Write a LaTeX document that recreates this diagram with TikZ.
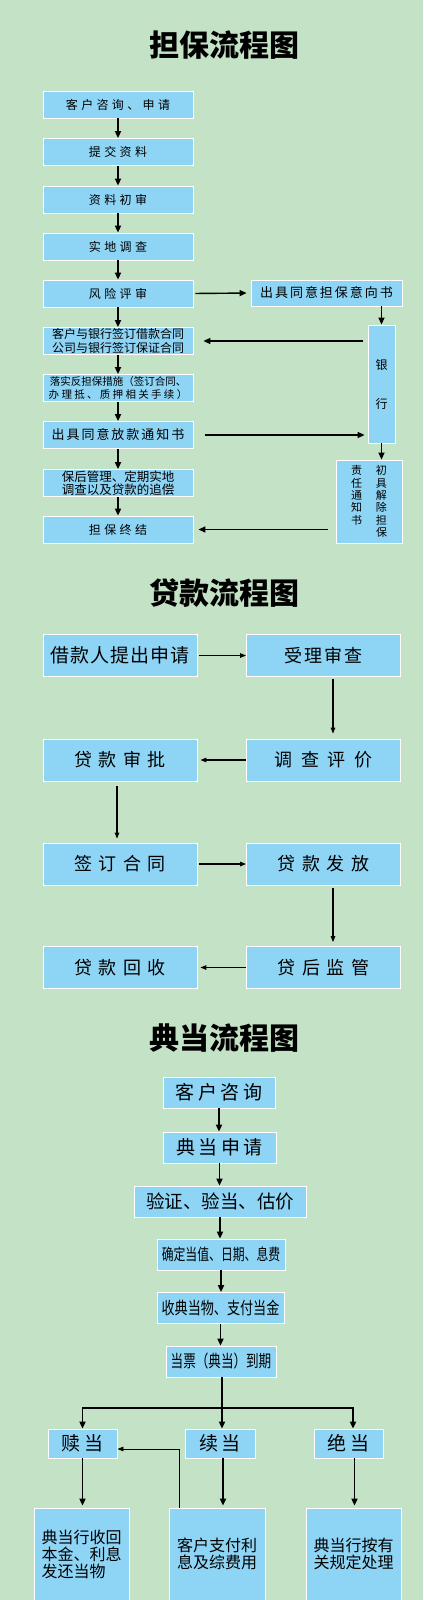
\documentclass[tikz,border=0pt]{standalone}
\usepackage{fontspec}
\usepackage{graphicx}
\newfontfamily\cjk{Noto Sans CJK SC}
\usetikzlibrary{arrows.meta}
\definecolor{bggreen}{RGB}{196,227,198}
\definecolor{boxblue}{RGB}{142,212,245}

\begin{document}
\begin{tikzpicture}[x=1pt, y=-1pt,
    box/.style   = {draw=white, line width=0.8pt, fill=boxblue, inner sep=1pt, align=center},
    gbox/.style  = {box, minimum width=150pt, minimum height=27pt,
                    font={\cjk\fontsize{12}{13.5}\selectfont\addfontfeatures{LetterSpace=28}}},
    lbox/.style  = {box, minimum width=154pt, minimum height=42pt,
                    font={\cjk\fontsize{18}{20}\selectfont\addfontfeatures{LetterSpace=37}}},
    cbox/.style  = {box, minimum height=31pt,
                    font={\cjk\fontsize{19}{21}\selectfont\addfontfeatures{LetterSpace=18}}},
    ubox/.style  = {box, minimum width=95pt, minimum height=92pt,
                    font={\cjk\fontsize{16}{17}\selectfont}},
    ttl/.style   = {font={\cjk\bfseries\fontsize{30}{32}\selectfont}},
    darr/.style  = {-{Triangle[length=7pt,width=6pt]}, line width=1.8pt},
    tarr/.style  = {-{Triangle[length=6pt,width=4.5pt]}, line width=1.1pt}
    ]
      \useasboundingbox (0,0) rectangle (423,1600);
      \fill[bggreen] (0,0) rectangle (423,1600);

      % guarantee ------------------------------------------------
      \node[ttl] (title1) at (224,45) {担保流程图};
      \node[gbox] (g1) at (118,104.5) {客户咨询、申请};
      \node[gbox] (g2) at (118,152)   {提交资料};
      \node[gbox] (g3) at (118,199.5) {资料初审};
      \node[gbox] (g4) at (118,246.5) {实地调查};
      \node[gbox] (g5) at (118,293.5) {风险评审};
      \node[gbox, font={\cjk\fontsize{12}{13.5}\selectfont}] (g6) at (118,341)
            {客户与银行签订借款合同\\公司与银行签订保证合同};
      \node[gbox, font={\cjk\fontsize{10.5}{12.5}\selectfont}] (g7) at (118,388)
            {落实反担保措施（签订合同、\\{\addfontfeatures{LetterSpace=22}办理抵、质押相关手续）}};
      \node[gbox, font={\cjk\fontsize{13}{14}\selectfont\addfontfeatures{LetterSpace=15}}] (g8) at (118,435)
            {出具同意放款通知书};
      \node[gbox, font={\cjk\fontsize{12.5}{11}\selectfont}] (g9) at (118,483)
            {保后管理、定期实地\\调查以及贷款的追偿};
      \node[gbox] (g10) at (118,529.5) {担保终结};

      \node[gbox, minimum width=151pt, minimum height=26pt,
            font={\cjk\fontsize{13}{14}\selectfont\addfontfeatures{LetterSpace=15}}] (r1) at (326.5,293)
            {出具同意担保意向书};
      \node[box, minimum width=27pt, minimum height=118pt,
            font={\cjk\fontsize{12}{14}\selectfont}] (bank) at (381.5,384) {银\\[25pt]行};
      \node[box, minimum width=66pt, minimum height=83pt,
            font={\cjk\fontsize{11}{12.3}\selectfont}] (notice) at (369,501.5)
            {责\hspace{14pt}初\\任\hspace{14pt}具\\通\hspace{14pt}解\\知\hspace{14pt}除\\
             书\hspace{14pt}担\\\phantom{责}\hspace{14pt}保};

      \foreach \a/\b in {g1/g2, g2/g3, g3/g4, g4/g5, g5/g6, g6/g7, g7/g8, g8/g9, g9/g10}
        \draw[darr] (\a) -- (\b);
      \draw[darr, line width=1.4pt, shorten <=2pt, shorten >=4pt] (g5.east) -- (r1.west);
      \draw[darr, line width=1.4pt] (r1.south -| bank.north) -- (bank.north);
      \draw[darr, line width=1.4pt, shorten <=5pt, shorten >=10pt] (g6.east -| bank.west) -- (g6.east);
      \draw[darr, line width=1.4pt, shorten <=12pt, shorten >=3pt] (g8.east) -- (g8.east -| bank.west);
      \draw[darr, line width=1.4pt] (bank.south) -- (bank.south |- notice.north);
      \draw[darr, line width=1.4pt, shorten <=8pt, shorten >=5pt] (g10.east -| notice.west) -- (g10.east);

      % loan -----------------------------------------------------
      \node[ttl] (title2) at (224,593) {贷款流程图};
      \node[lbox, font={\cjk\fontsize{19}{21}\selectfont\addfontfeatures{LetterSpace=5}}] (l1) at (120,655.5)
            {借款人提出申请};
      \node[lbox, font={\cjk\fontsize{18}{20}\selectfont\addfontfeatures{LetterSpace=10}}] (l2) at (323.5,655.5)
            {受理审查};
      \node[lbox, font={\cjk\fontsize{18}{20}\selectfont\addfontfeatures{LetterSpace=48}}] (l3) at (323.5,760)
            {调查评价};
      \node[lbox] (l4) at (120,760)     {贷款审批};
      \node[lbox] (l5) at (120,864)     {签订合同};
      \node[lbox] (l6) at (323.5,864)   {贷款发放};
      \node[lbox] (l7) at (323.5,967.5) {贷后监管};
      \node[lbox] (l8) at (120,967.5)   {贷款回收};

      \draw[tarr, shorten <=2pt] (l1) -- (l2);
      \draw[tarr, shorten <=2pt, shorten >=5pt] ([xshift=9.5pt]l2.south) -- ([xshift=9.5pt]l3.north);
      \draw[tarr, shorten >=3pt] (l3) -- (l4);
      \draw[tarr, shorten <=5pt, shorten >=4pt] ([xshift=-3pt]l4.south) -- ([xshift=-3pt]l5.north);
      \draw[tarr, shorten <=2pt] (l5) -- (l6);
      \draw[tarr, shorten <=3pt, shorten >=4pt] ([xshift=9.5pt]l6.south) -- ([xshift=9.5pt]l7.north);
      \draw[tarr, shorten >=3pt] (l7) -- (l8);

      % pawn -----------------------------------------------------
      \node[ttl] (title3) at (224,1038) {典当流程图};
      \node[cbox, minimum width=112pt] (c1) at (219,1092.5)   {客户咨询};
      \node[cbox, minimum width=113pt] (c2) at (219.5,1147.5) {典当申请};
      \node[cbox, minimum width=172pt, font={\cjk\fontsize{18.5}{20}\selectfont}] (c3) at (220,1201.5)
            {验证、验当、估价};
      \node[cbox, minimum width=128pt, font={\cjk\fontsize{16}{18}\selectfont}] (c4) at (221,1254.5)
            {\scalebox{0.74}[1]{确定当值、日期、息费}};
      \node[cbox, minimum width=127pt, font={\cjk\fontsize{17}{19}\selectfont}] (c5) at (220.5,1308)
            {\scalebox{0.77}[1]{收典当物、支付当金}};
      \node[cbox, minimum width=110pt, font={\cjk\fontsize{17}{19}\selectfont}] (c6) at (221,1361.5)
            {\scalebox{0.74}[1]{当票（典当）到期}};
      \coordinate (split) at (222,1408);

      \node[cbox, minimum width=69pt, minimum height=29pt] (t1) at (82.5,1443.5)  {赎当};
      \node[cbox, minimum width=70pt, minimum height=29pt] (t2) at (220,1443.5)   {续当};
      \node[cbox, minimum width=69pt, minimum height=29pt] (t3) at (348.5,1443.5) {绝当};

      \node[ubox, align=left] (u1) at (81.5,1554) {典当行收回\\本金、利息\\发还当物};
      \node[ubox, minimum width=96pt] (u2) at (217,1554) {客户支付利\\息及综费用};
      \node[ubox] (u3) at (353.5,1554) {典当行按有\\关规定处理};

      \foreach \a/\b in {c1/c2, c2/c3, c3/c4, c4/c5, c5/c6}
        \draw[darr] (\a.south) -- (\a.south |- \b.north);
      \draw[darr] ([xshift=1pt]c6.south) -- ([xshift=1pt]c6.south |- t2.north);
      \draw[darr] (split) -| (t1.north);
      \draw[darr] (split) -| ([xshift=4.5pt]t3.north);
      \draw[darr, shorten >=2pt] (t1.south) -- (t1.south |- u1.north);
      \draw[darr, shorten >=2pt] ([xshift=3pt]t2.south) -- ([xshift=3pt]t2.south |- u2.north);
      \draw[darr, shorten >=2pt] ([xshift=6pt]t3.south) -- ([xshift=6pt]t3.south |- u3.north);
      \draw[tarr, line width=0.8pt] ([xshift=-38pt]u2.north) |- ([yshift=-5.5pt]t1.east);
\end{tikzpicture}
\end{document}
